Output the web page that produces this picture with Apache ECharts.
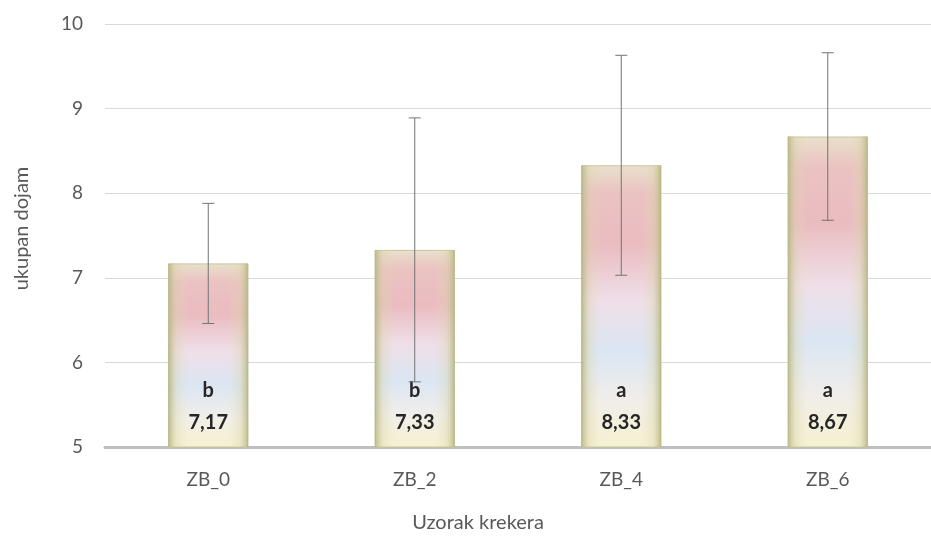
<!DOCTYPE html>
<html><head><meta charset="utf-8">
<script src="https://cdn.jsdelivr.net/npm/echarts@6/dist/echarts.min.js"></script>
<style>html,body{margin:0;padding:0;background:#fff}#c{width:931px;height:536px}</style>
</head><body><div id="c"></div>
<script>
const categories = ['ZB_0', 'ZB_2', 'ZB_4', 'ZB_6'];
const means = [7.17, 7.33, 8.33, 8.67];
const errors = [0.71, 1.56, 1.30, 0.99];
const letters = ['b', 'b', 'a', 'a'];
const yTicks = [5, 6, 7, 8, 9, 10];

const FONT = 'Lato, "Open Sans", sans-serif';
const chart = echarts.init(document.getElementById('c'));

const fillGrad = new echarts.graphic.LinearGradient(0, 0, 0, 1, [
  { offset: 0, color: '#e9e0cc' },
  { offset: 0.1, color: '#ebc2c2' },
  { offset: 0.28, color: '#eabcc0' },
  { offset: 0.48, color: '#efdfe8' },
  { offset: 0.66, color: '#dbe6f3' },
  { offset: 0.84, color: '#f1eee9' },
  { offset: 1, color: '#f6f1cf' }
]);
const edgeGrad = new echarts.graphic.LinearGradient(0, 0, 1, 0, [
  { offset: 0, color: 'rgba(180,180,130,0.9)' },
  { offset: 0.1, color: 'rgba(215,210,165,0.35)' },
  { offset: 0.25, color: 'rgba(230,225,190,0)' },
  { offset: 0.75, color: 'rgba(230,225,190,0)' },
  { offset: 0.9, color: 'rgba(215,210,165,0.35)' },
  { offset: 1, color: 'rgba(180,180,130,0.9)' }
]);

chart.setOption({
  animation: false,
  backgroundColor: '#fff',
  grid: { left: 105, top: 24, width: 836, height: 423, containLabel: false },
  title: {
    text: 'Uzorak krekera', left: 478, top: 513, textAlign: 'center', padding: 0,
    textStyle: { fontFamily: FONT, fontSize: 20, fontWeight: 'normal', color: '#595959', letterSpacing: 1 }
  },
  xAxis: {
    type: 'category', data: categories,
    axisLine: { lineStyle: { color: '#bfbfbf', width: 3 } },
    axisTick: { show: false },
    axisLabel: { color: '#595959', fontFamily: FONT, fontSize: 19, margin: 23 }
  },
  yAxis: {
    type: 'value', min: yTicks[0], max: yTicks[yTicks.length - 1], interval: 1,
    name: 'ukupan dojam', nameLocation: 'middle', nameGap: 73, nameRotate: 90,
    nameTextStyle: { color: '#595959', fontFamily: FONT, fontSize: 20, padding: [0, 0, 0, 14] },
    axisLine: { show: false }, axisTick: { show: false },
    axisLabel: { color: '#595959', fontFamily: FONT, fontSize: 19, margin: 22 },
    splitLine: { lineStyle: { color: '#d9d9d9', width: 1 } }
  },
  series: [
    {
      type: 'bar', data: means, barWidth: 80,
      itemStyle: { color: fillGrad, borderColor: '#c5c39e', borderWidth: 1 },
      label: {
        show: true, position: 'insideBottom', distance: 13,
        formatter: p => '{l|' + letters[p.dataIndex] + '}\n{v|' + means[p.dataIndex].toFixed(2).replace('.', ',') + '}',
        rich: {
          l: { fontFamily: FONT, fontSize: 20, fontWeight: 'bold', color: '#262626', lineHeight: 40 },
          v: { fontFamily: FONT, fontSize: 20, fontWeight: 'bold', color: '#262626', lineHeight: 24 }
        }
      },
      z: 2
    },
    {
      type: 'bar', data: means, barWidth: 80, barGap: '-100%',
      itemStyle: { color: edgeGrad }, silent: true, z: 3
    },
    {
      type: 'custom', z: 5,
      data: means.map((m, i) => [i, m - errors[i], m + errors[i]]),
      renderItem: function (params, api) {
        const x = api.value(0);
        const lo = api.coord([x, api.value(1)]);
        const hi = api.coord([x, api.value(2)]);
        const cap = 6;
        const st = { stroke: '#737373', lineWidth: 1 };
        return {
          type: 'group', children: [
            { type: 'line', shape: { x1: hi[0], y1: hi[1], x2: lo[0], y2: lo[1] }, style: st },
            { type: 'line', shape: { x1: hi[0] - cap, y1: hi[1], x2: hi[0] + cap, y2: hi[1] }, style: st },
            { type: 'line', shape: { x1: lo[0] - cap, y1: lo[1], x2: lo[0] + cap, y2: lo[1] }, style: st }
          ]
        };
      }
    }
  ]
});
</script></body></html>
